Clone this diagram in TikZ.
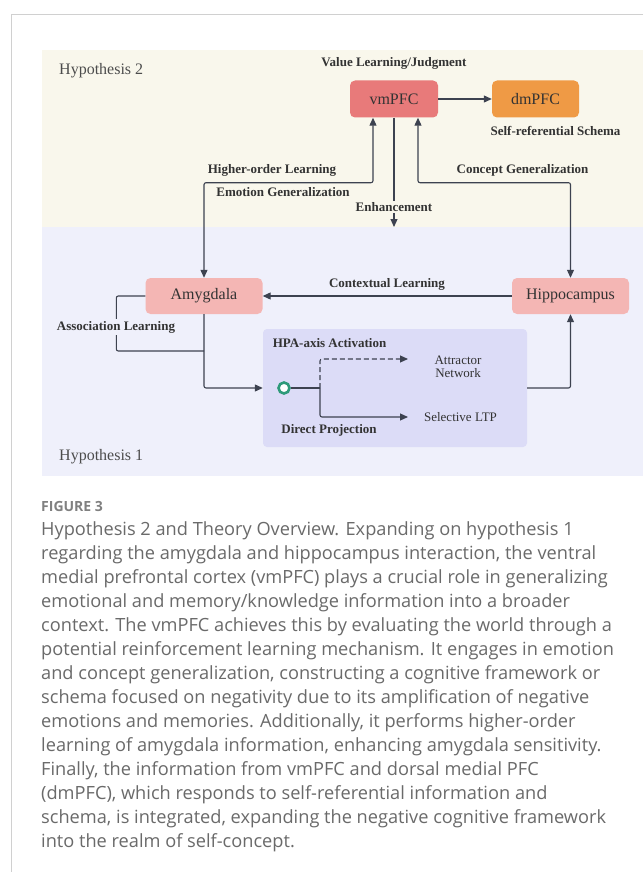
\documentclass[tikz,border=0pt]{standalone}
\usepackage{fontspec}
\setmainfont{Liberation Serif}
\newfontfamily\capfont{Open Sans}
\usetikzlibrary{arrows.meta,calc}
\definecolor{framegray}{HTML}{D0D0D0}
\definecolor{ybg}{HTML}{F9F7EC}
\definecolor{bbg}{HTML}{EFF0FB}
\definecolor{hpabg}{HTML}{DCDCF7}
\definecolor{vmcol}{HTML}{E87A7A}
\definecolor{dmcol}{HTML}{EF9A45}
\definecolor{pinkcol}{HTML}{F4B6B4}
\definecolor{linecol}{HTML}{3D4250}
\definecolor{txtcol}{HTML}{333333}
\definecolor{capcol}{HTML}{6A6A6A}
\definecolor{dotgreen}{HTML}{2E9A7A}
\tikzset{
  region/.style={rectangle, rounded corners=5pt, inner sep=0pt, font=\fontsize{16}{18}\selectfont, text=txtcol},
  boldlab/.style={font=\bfseries\fontsize{13}{15}\selectfont, text=txtcol, inner sep=1pt},
  plainlab/.style={font=\fontsize{13}{15}\selectfont, text=txtcol, inner sep=1pt, align=center},
  hyplab/.style={font=\fontsize{16}{18}\selectfont, text=black!70, anchor=west, inner sep=0pt},
  conn/.style={draw=linecol, line width=1.1pt, rounded corners=2pt},
  arr/.style={conn, -{Triangle[length=8pt,width=7pt]}},
  biarr/.style={conn, {Triangle[length=8pt,width=7pt]}-{Triangle[length=8pt,width=7pt]}},
  capline/.style={font=\capfont\fontsize{18.2}{21}\selectfont, text=capcol, anchor=base west, inner sep=0pt}
}
\begin{document}
\begin{tikzpicture}[x=1pt,y=-1pt]
\useasboundingbox (0,0) rectangle (643,872);
\fill[white] (0,0) rectangle (643,872);
% frame
\draw[framegray, line width=0.8pt] (643,14) -- (11,14) -- (11,872);
% backgrounds
\fill[ybg] (42,50) rectangle (643,227);
\fill[bbg] (42,227) rectangle (643,476);
\node[hyplab] (h2) at (59,71) {Hypothesis 2};
\node[hyplab] (h1) at (59,457) {Hypothesis 1};
% HPA box
\node[rectangle, rounded corners=4pt, fill=hpabg, minimum width=264pt, minimum height=118pt, inner sep=0pt] (hpa) at (395,388) {};
% region nodes
\node[region, fill=vmcol, minimum width=88pt, minimum height=37pt] (vm) at (394,99) {vmPFC};
\node[region, fill=dmcol, minimum width=87pt, minimum height=37pt] (dm) at (535.5,99) {dmPFC};
\node[region, fill=pinkcol, minimum width=117pt, minimum height=36pt] (amy) at (204,296) {Amygdala};
\node[region, fill=pinkcol, minimum width=117pt, minimum height=36pt] (hip) at (570.5,296) {Hippocampus};
% labels
\node[boldlab] (vlj) at (394,63) {Value Learning/Judgment};
\node[boldlab] (srs) at (555.5,131) {Self-referential Schema};
\node[boldlab] (hol) at (272,170) {Higher-order Learning};
\node[boldlab] (emg) at (283,192) {Emotion Generalization};
\node[boldlab] (cog) at (522.5,170) {Concept Generalization};
\node[boldlab] (enh) at (394,207) {Enhancement};
\node[boldlab] (ctx) at (387,284) {Contextual Learning};
\node[boldlab] (hpalab) at (329.5,343) {HPA-axis Activation};
\node[boldlab] (dp) at (329,430) {Direct Projection};
\node[plainlab] (att) at (458,366.5) {Attractor\\[-2pt]Network};
\node[plainlab] (ltp) at (460.5,417) {Selective LTP};
% connectors
\draw[arr] (vm.east) -- (dm.west);
\draw[biarr] ([xshift=-21pt]vm.south) -- ++(0,65) -| (amy.north);
\draw[biarr] ([xshift=24pt]vm.south) -- ++(0,65) -| (hip.north);
\draw[conn, line width=1.6pt] (vm.south) -- (enh.north);
\coordinate (enhend) at (394,227);
\draw[arr] (enh.south) -- (enhend);
\draw[arr] (hip.west) -- (amy.east);
\coordinate (assocj) at (204,351);
\draw[conn] (amy.west) -- ++(-29,0) |- (assocj);
\node[boldlab, fill=bbg, inner sep=2pt] (asl) at (116,327) {Association Learning};
\draw[arr] (amy.south) |- (hpa.west);
\draw[arr] (hpa.east) -| (hip.south);
% inner branch
\node[circle, draw=dotgreen, fill=white, line width=2.6pt, minimum size=11pt, inner sep=0pt] (dot) at (284,388) {};
\coordinate (br) at (320,388);
\coordinate (atip) at (408,359);
\coordinate (stip) at (408,417);
\draw[conn] (dot.east) -- (br);
\draw[arr, dashed, dash pattern=on 5pt off 3pt] (br) |- (atip);
\draw[arr] (br) |- (stip);
% caption
\node[font=\capfont\bfseries\fontsize{14}{16}\selectfont, text=capcol!85, anchor=base west, inner sep=0pt] (fig) at (41,511) {FIGURE 3};
\foreach \t [count=\i] in {
{Hypothesis 2 and Theory Overview. Expanding on hypothesis 1},
{regarding the amygdala and hippocampus interaction, the ventral},
{medial prefrontal cortex (vmPFC) plays a crucial role in generalizing},
{emotional and memory/knowledge information into a broader},
{context. The vmPFC achieves this by evaluating the world through a},
{potential reinforcement learning mechanism. It engages in emotion},
{and concept generalization, constructing a cognitive framework or},
{schema focused on negativity due to its amplification of negative},
{emotions and memories. Additionally, it performs higher-order},
{learning of amygdala information, enhancing amygdala sensitivity.},
{Finally, the information from vmPFC and dorsal medial PFC},
{(dmPFC), which responds to self-referential information and},
{schema, is integrated, expanding the negative cognitive framework},
{into the realm of self-concept.}}
{\node[capline] (cap\i) at (41,{535+24*(\i-1)}) {\t};}
\end{tikzpicture}
\end{document}
